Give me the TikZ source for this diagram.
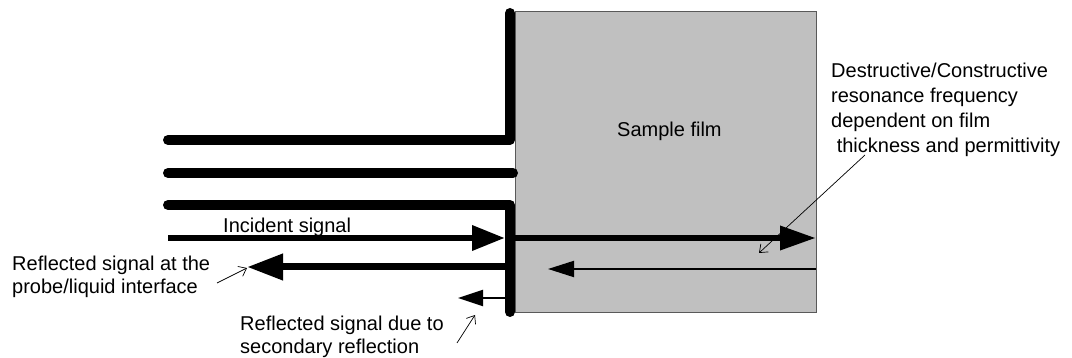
\documentclass[tikz,border=0pt]{standalone}
\usepackage{fontspec}
\setmainfont{Liberation Sans}
\usetikzlibrary{arrows.meta}
\definecolor{filmgray}{HTML}{C0C0C0}
\begin{document}
\begin{tikzpicture}[x=1pt,y=-1pt,
  probe/.style={line width=10pt,line cap=round,line join=round},
  bigsig/.style={line width=6.5pt},
  smallsig/.style={line width=2pt},
  note/.style={line width=0.7pt,-{Straight Barb[length=7pt,width=11pt]}},
  lbl/.style={inner sep=0pt,font=\fontsize{20pt}{23pt}\selectfont,align=left}]
\useasboundingbox (0,0) rectangle (1072,358);
% film
\fill[filmgray] (515,12) rectangle (816,313);
\draw[black!65,line width=1pt] (515,12) rectangle (816,313);
% probe
\coordinate (p1a) at (168,140); \coordinate (p1b) at (510,140); \coordinate (p1c) at (510,13);
\coordinate (p2a) at (168,173); \coordinate (p2b) at (513,173);
\coordinate (p3a) at (168,205); \coordinate (p3b) at (510,205); \coordinate (p3c) at (510,312);
\draw[probe] (p1a) -- (p1b) -- (p1c);
\draw[probe] (p2a) -- (p2b);
\draw[probe] (p3a) -- (p3b) -- (p3c);
% signals
\coordinate (inA) at (168,238); \coordinate (inB) at (505,238);
\coordinate (fA) at (515,238); \coordinate (fB) at (816,238);
\coordinate (rA) at (505,267); \coordinate (rB) at (247,267);
\coordinate (sA) at (505,298); \coordinate (sB) at (458,298);
\coordinate (tA) at (816,269); \coordinate (tB) at (548,269);
\draw[bigsig,-{Triangle[length=33pt,width=24pt]}] (inA) -- (inB);
\draw[bigsig,-{Triangle[length=36pt,width=23pt]}] (fA) -- (fB);
\draw[line width=7pt,-{Triangle[length=36pt,width=25pt]}] (rA) -- (rB);
\draw[smallsig,-{Triangle[length=25pt,width=16pt]}] (sA) -- (sB);
\draw[smallsig,-{Triangle[length=26pt,width=16pt]}] (tA) -- (tB);
% labels
\node[lbl,anchor=base west] (film) at (617,137) {Sample film};
\node[lbl,anchor=base west] (inc) at (223,233) {Incident signal};
\node[lbl,anchor=north west] (refl) at (12,255.4) {Reflected signal at the\\probe/liquid interface};
\node[lbl,anchor=north west] (sec) at (240,315.4) {Reflected signal due to\\secondary reflection};
\node[lbl,anchor=north west,font=\fontsize{20pt}{25.3pt}\selectfont] (dest) at (831,62.4)
  {Destructive/Constructive\\resonance frequency\\dependent on film\\\hspace*{5.6pt}thickness and permittivity};
% annotation arrows
\coordinate (dS) at (865,155); \coordinate (dT) at (759,253);
\coordinate (rS) at (217,283); \coordinate (rT) at (247,268);
\coordinate (sS) at (457,343); \coordinate (sT) at (475,315);
\draw[note] (dS) -- (dT);
\draw[note] (rS) -- (rT);
\draw[note] (sS) -- (sT);
\end{tikzpicture}
\end{document}
